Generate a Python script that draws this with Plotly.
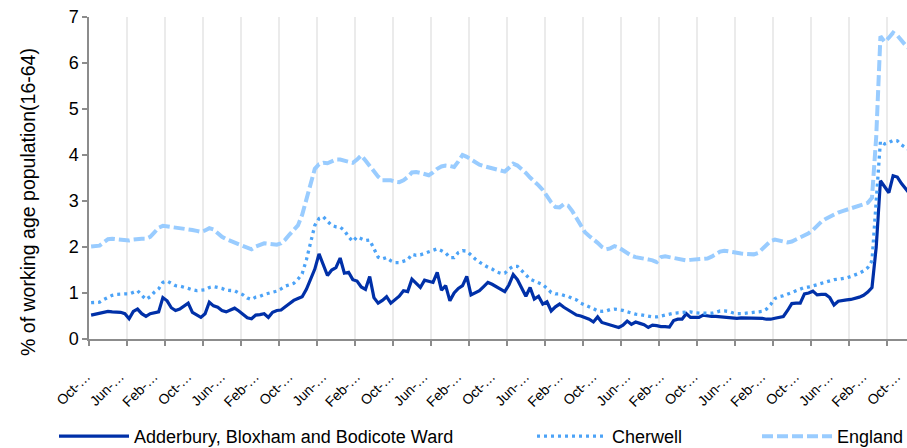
import pandas as pd
import plotly.graph_objects as go

# Monthly series, Oct-2004 onwards
months = pd.date_range("2004-10-01", periods=195, freq="MS")
month_labels = [d.strftime("%b-%y") for d in months]

ward = [
    0.52, 0.54, 0.56, 0.58, 0.60, 0.59, 0.58, 0.58, 0.55, 0.44,
    0.60, 0.65, 0.55, 0.49, 0.55, 0.57, 0.59, 0.90, 0.83, 0.68,
    0.62, 0.65, 0.72, 0.78, 0.58, 0.52, 0.47, 0.55, 0.80, 0.72,
    0.69, 0.62, 0.59, 0.63, 0.67, 0.61, 0.53, 0.46, 0.44, 0.52,
    0.53, 0.55, 0.47, 0.58, 0.62, 0.63, 0.70, 0.77, 0.84, 0.88,
    0.92, 1.08, 1.28, 1.52, 1.85, 1.60, 1.38, 1.50, 1.55, 1.76,
    1.43, 1.45, 1.29, 1.26, 1.13, 1.08, 1.36, 0.90, 0.78, 0.84,
    0.92, 0.78, 0.85, 0.93, 1.05, 1.03, 1.30, 1.22, 1.12, 1.28,
    1.26, 1.23, 1.45, 1.06, 1.16, 0.83, 1.00, 1.10, 1.16, 1.36,
    0.96, 1.01, 1.05, 1.14, 1.23, 1.19, 1.13, 1.08, 1.03, 1.18,
    1.40, 1.29, 1.12, 0.93, 1.12, 0.87, 0.93, 0.76, 0.81, 0.61,
    0.70, 0.76, 0.69, 0.63, 0.58, 0.52, 0.50, 0.47, 0.43, 0.37,
    0.48, 0.36, 0.33, 0.30, 0.27, 0.25, 0.30, 0.39, 0.32, 0.37,
    0.34, 0.31, 0.25, 0.30, 0.29, 0.27, 0.27, 0.26, 0.40, 0.43,
    0.43, 0.55, 0.47, 0.47, 0.47, 0.52, 0.50, 0.49, 0.49, 0.48,
    0.47, 0.46, 0.45, 0.45, 0.46, 0.46, 0.46, 0.45, 0.45, 0.45,
    0.43, 0.43, 0.45, 0.47, 0.49, 0.62, 0.77, 0.78, 0.78, 0.98,
    1.00, 1.04, 0.96, 0.97, 0.97, 0.90, 0.74, 0.82, 0.84, 0.85,
    0.86, 0.88, 0.91, 0.95, 1.02, 1.12, 2.00, 3.44, 3.30, 3.18,
    3.55, 3.52, 3.38, 3.25, 3.15,
]

cherwell = [
    0.79, 0.80, 0.80, 0.86, 0.91, 0.95, 0.97, 0.98, 0.98, 0.98,
    1.02, 1.05, 0.95, 0.86, 0.92, 1.02, 1.09, 1.23, 1.26, 1.21,
    1.16, 1.15, 1.13, 1.10, 1.07, 1.05, 1.06, 1.07, 1.12, 1.14,
    1.12, 1.10, 1.06, 1.05, 1.05, 1.00, 0.96, 0.89, 0.86, 0.91,
    0.93, 0.97, 0.99, 1.01, 1.04, 1.09, 1.15, 1.18, 1.21, 1.30,
    1.42, 1.72, 2.12, 2.47, 2.62, 2.66, 2.56, 2.47, 2.44, 2.43,
    2.36, 2.22, 2.12, 2.22, 2.18, 2.14, 2.15, 1.95, 1.78, 1.74,
    1.77, 1.70, 1.66, 1.66, 1.69, 1.72, 1.84, 1.82, 1.83, 1.86,
    1.90, 1.93, 1.96, 1.92, 1.87, 1.77, 1.77, 1.88, 1.92, 1.91,
    1.82, 1.74, 1.67, 1.61, 1.56, 1.52, 1.46, 1.43, 1.43, 1.52,
    1.58, 1.58, 1.49, 1.38, 1.30, 1.26, 1.22, 1.18, 1.10, 1.01,
    0.98, 0.98, 0.95, 0.93, 0.88, 0.85, 0.78, 0.74, 0.71, 0.66,
    0.61, 0.60, 0.61, 0.64, 0.65, 0.64, 0.62, 0.59, 0.56, 0.54,
    0.53, 0.51, 0.50, 0.48, 0.48, 0.50, 0.53, 0.55, 0.56, 0.57,
    0.58, 0.59, 0.59, 0.57, 0.56, 0.56, 0.56, 0.56, 0.58, 0.61,
    0.61, 0.60, 0.57, 0.55, 0.55, 0.56, 0.57, 0.58, 0.58, 0.60,
    0.65, 0.75, 0.88, 0.92, 0.94, 0.97, 1.01, 1.05, 1.09, 1.12,
    1.13, 1.15, 1.18, 1.21, 1.24, 1.27, 1.29, 1.30, 1.31, 1.33,
    1.36, 1.39, 1.43, 1.48, 1.55, 1.70, 2.90, 4.30, 4.24, 4.27,
    4.32, 4.31, 4.22, 4.15, 4.10,
]

england = [
    2.01, 2.01, 2.03, 2.10, 2.17, 2.18, 2.17, 2.16, 2.15, 2.14,
    2.16, 2.18, 2.18, 2.18, 2.22, 2.32, 2.42, 2.46, 2.45, 2.43,
    2.41, 2.40, 2.40, 2.39, 2.37, 2.35, 2.33, 2.36, 2.41, 2.38,
    2.30, 2.22, 2.17, 2.13, 2.10, 2.05, 2.02, 1.97, 1.95, 2.01,
    2.05, 2.08, 2.07, 2.06, 2.05, 2.08, 2.16, 2.27, 2.38, 2.47,
    2.70, 3.05, 3.42, 3.70, 3.80, 3.83, 3.82, 3.86, 3.90, 3.90,
    3.88, 3.86, 3.83, 3.90, 3.99, 3.88, 3.76, 3.62, 3.53, 3.45,
    3.46, 3.45, 3.42, 3.41, 3.45, 3.52, 3.62, 3.63, 3.61, 3.58,
    3.56, 3.62, 3.70, 3.75, 3.77, 3.76, 3.74, 3.86, 4.00, 3.96,
    3.90, 3.84, 3.79, 3.76, 3.74, 3.72, 3.69, 3.66, 3.64, 3.72,
    3.81, 3.77, 3.70, 3.61, 3.51, 3.43, 3.34, 3.24, 3.10, 2.97,
    2.87, 2.86, 2.93, 2.90, 2.78, 2.62, 2.45, 2.32, 2.24, 2.17,
    2.09, 2.00, 1.95, 1.97, 2.02, 1.99, 1.93, 1.86, 1.81, 1.78,
    1.77, 1.75, 1.73, 1.71, 1.67, 1.78, 1.80, 1.78, 1.76, 1.74,
    1.72, 1.71, 1.72, 1.73, 1.74, 1.74, 1.75, 1.79, 1.84, 1.90,
    1.92, 1.90, 1.88, 1.87, 1.86, 1.85, 1.85, 1.84, 1.87, 1.96,
    2.05, 2.13, 2.16, 2.14, 2.11, 2.10, 2.12, 2.16, 2.20, 2.24,
    2.30, 2.37, 2.47, 2.55, 2.61, 2.66, 2.71, 2.75, 2.78, 2.81,
    2.83, 2.85, 2.88, 2.91, 2.96, 3.07, 4.40, 6.58, 6.46, 6.55,
    6.66, 6.60, 6.48, 6.38, 6.30,
]

series_names = ["Adderbury, Bloxham and Bodicote Ward", "Cherwell", "England"]

# Category axis helpers
idx = list(range(len(months)))
label_step = 8          # a label every 8 months
tick_step = 9           # tick marks / gridlines every 9 months
label_pos = [i for i in idx if i % label_step == 0 and i <= 192]
label_txt = [month_labels[i][:4] + "\u2026" for i in label_pos]
minor_pos = [-0.5 + tick_step * k for k in range(23)]

FONT = "Arial, Liberation Sans, sans-serif"
AXIS_GREY = "#8c8c8c"

fig = go.Figure()
fig.add_trace(go.Scatter(
    x=idx, y=ward, name=series_names[0], mode="lines",
    line=dict(color="#0030a8", width=3.2), legend="legend",
))
fig.add_trace(go.Scatter(
    x=idx, y=cherwell, name=series_names[1], mode="lines",
    line=dict(color="#4ca3f7", width=3.3, dash="3px,4px"), legend="legend2",
))
fig.add_trace(go.Scatter(
    x=idx, y=england, name=series_names[2], mode="lines",
    line=dict(color="#99ccff", width=4, dash="11px,4px"), legend="legend3",
))

W, H = 907, 448
L, R, T, B = 89, 0, 16.7, 108.7
plot_w = W - L - R
plot_h = H - T - B

def px_to_paper_x(px):
    return (px - L) / plot_w

def px_to_paper_y(py):
    return (H - B - py) / plot_h

legend_common = dict(
    orientation="h", yanchor="middle", xanchor="left",
    y=px_to_paper_y(437), itemwidth=70,
    font=dict(family=FONT, size=18, color="#000"),
    bgcolor="rgba(0,0,0,0)", borderwidth=0,
)

fig.update_layout(
    width=W, height=H,
    margin=dict(l=L, r=R, t=T, b=B, pad=0, autoexpand=False),
    paper_bgcolor="white", plot_bgcolor="white",
    font=dict(family=FONT, color="#000"),
    showlegend=True,
    legend=dict(x=px_to_paper_x(54), **legend_common),
    legend2=dict(x=px_to_paper_x(532), **legend_common),
    legend3=dict(x=px_to_paper_x(757), **legend_common),
    xaxis=dict(
        range=[-0.5, -0.5 + plot_w / 4.221],
        tickmode="array", tickvals=label_pos, ticktext=label_txt,
        tickangle=-45, tickfont=dict(family=FONT, size=14, color="#000"),
        ticklabelstandoff=22, ticklabelshift=-5, ticklabeloverflow="allow",
        ticks="", showgrid=False, zeroline=False, automargin=False,
        showline=True, linecolor=AXIS_GREY, linewidth=1.5,
        minor=dict(tickmode="array", tickvals=minor_pos, ticks="outside",
                   ticklen=5, tickwidth=1.5, tickcolor=AXIS_GREY,
                   showgrid=True, gridcolor="#ebebeb", gridwidth=1.5),
    ),
    yaxis=dict(
        range=[0, 7], tickmode="linear", tick0=0, dtick=1,
        ticks="outside", ticklen=5, tickwidth=1.5, tickcolor=AXIS_GREY,
        tickfont=dict(family=FONT, size=18, color="#000"),
        showgrid=False, zeroline=False, automargin=False,
        showline=True, linecolor=AXIS_GREY, linewidth=1.5,
    ),
    annotations=[dict(
        text="% of working age population(16-64)",
        xref="paper", yref="paper",
        x=px_to_paper_x(28), y=px_to_paper_y(202),
        xanchor="center", yanchor="middle", textangle=-90,
        showarrow=False, font=dict(family=FONT, size=19.5, color="#000"),
    )],
)

fig.write_html(
    "out.html",
    config={"displayModeBar": False},
    post_script="document.body.style.margin='0';document.body.style.padding='0';",
)
